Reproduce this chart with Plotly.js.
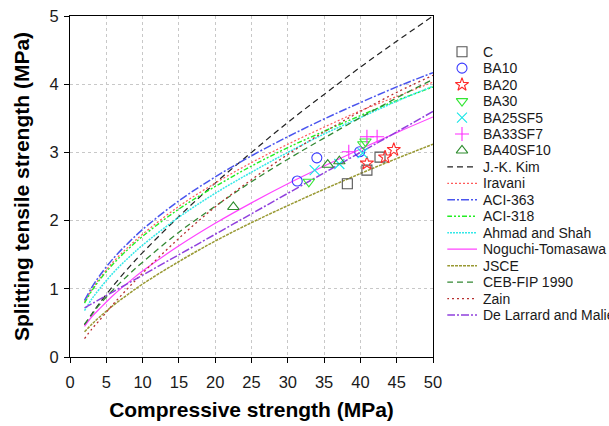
<!DOCTYPE html>
<html>
<head>
<meta charset="utf-8">
<script src="https://cdn.plot.ly/plotly-3.0.1.min.js"></script>
<style>html,body{margin:0;padding:0;background:#fff}#chart{width:609px;height:426px}</style>
</head>
<body>
<div id="chart"></div>
<script>
// ---- measured specimens ----
const C_x = [38.2, 40.9, 42.7];          const C_y = [2.54, 2.74, 2.93];
const BA10_x = [31.3, 34.0, 39.9];       const BA10_y = [2.58, 2.92, 3.01];
const BA20_x = [40.9, 43.4, 44.6];       const BA20_y = [2.84, 2.93, 3.04];
const BA30_x = [32.9, 40.4, 40.7];       const BA30_y = [2.57, 3.12, 3.16];
const BA25SF5_x = [33.7, 37.1, 40.3];    const BA25SF5_y = [2.74, 2.83, 2.99];
const BA33SF7_x = [38.4, 40.9, 42.3];    const BA33SF7_y = [3.01, 3.23, 3.23];
const BA40SF10_x = [22.5, 35.5, 37.1];   const BA40SF10_y = [2.20, 2.82, 2.87];

// ---- prediction curves (values read at these compressive strengths) ----
const fcCurve = [2, 3, 4, 6, 8, 10, 15, 20, 25, 30, 35, 40, 45, 50];
const kim      = [0.47, 0.63, 0.78, 1.05, 1.30, 1.53, 2.06, 2.55, 3.00, 3.44, 3.85, 4.25, 4.63, 5.00];
const iravani  = [0.81, 0.99, 1.14, 1.40, 1.61, 1.80, 2.21, 2.55, 2.85, 3.12, 3.37, 3.61, 3.82, 4.03];
const aci363   = [0.83, 1.02, 1.18, 1.45, 1.67, 1.87, 2.29, 2.64, 2.95, 3.23, 3.49, 3.73, 3.96, 4.17];
const aci318   = [0.79, 0.97, 1.12, 1.37, 1.58, 1.77, 2.17, 2.50, 2.80, 3.07, 3.31, 3.54, 3.76, 3.96];
const ahmad    = [0.68, 0.85, 0.99, 1.24, 1.45, 1.64, 2.05, 2.40, 2.71, 3.00, 3.27, 3.51, 3.75, 3.97];
const noguchi  = [0.45, 0.59, 0.70, 0.91, 1.09, 1.26, 1.63, 1.96, 2.26, 2.54, 2.80, 3.05, 3.29, 3.52];
const jsce     = [0.37, 0.48, 0.58, 0.76, 0.92, 1.07, 1.40, 1.70, 1.97, 2.22, 2.46, 2.69, 2.91, 3.12];
const cebfip   = [0.48, 0.62, 0.76, 0.99, 1.20, 1.39, 1.83, 2.21, 2.57, 2.90, 3.21, 3.51, 3.80, 4.07];
const zain     = [0.27, 0.41, 0.53, 0.78, 1.01, 1.23, 1.74, 2.20, 2.60, 2.97, 3.30, 3.60, 3.88, 4.13];
const larrard  = [0.72, 0.78, 0.84, 0.96, 1.08, 1.20, 1.50, 1.80, 2.10, 2.40, 2.70, 3.00, 3.30, 3.60];

const xTicks = [0, 5, 10, 15, 20, 25, 30, 35, 40, 45, 50];
const yTicks = [0, 1, 2, 3, 4, 5];

const FONT = 'Arial, "Liberation Sans", sans-serif';

const pointSeries = [
  {name: 'C',        x: C_x,        y: C_y,        symbol: 'square-open',        color: '#555555'},
  {name: 'BA10',     x: BA10_x,     y: BA10_y,     symbol: 'circle-open',        color: '#3a3aff'},
  {name: 'BA20',     x: BA20_x,     y: BA20_y,     symbol: 'star-open',          color: '#ff2a2a'},
  {name: 'BA30',     x: BA30_x,     y: BA30_y,     symbol: 'triangle-down-open', color: '#33e633'},
  {name: 'BA25SF5',  x: BA25SF5_x,  y: BA25SF5_y,  symbol: 'x-thin-open',        color: '#18e6e6'},
  {name: 'BA33SF7',  x: BA33SF7_x,  y: BA33SF7_y,  symbol: 'cross-thin-open',    color: '#ff2aff'},
  {name: 'BA40SF10', x: BA40SF10_x, y: BA40SF10_y, symbol: 'triangle-up-open',   color: '#2e8b2e'}
];
const lineSeries = [
  {name: 'J.-K. Kim',             y: kim,     color: '#222222', dash: '6px,4px',               width: 1.2},
  {name: 'Iravani',               y: iravani, color: '#ff5a5a', dash: '2px,2px',               width: 1.2},
  {name: 'ACI-363',               y: aci363,  color: '#4a55ee', dash: '8px,2px,2px,2px',       width: 1.5},
  {name: 'ACI-318',               y: aci318,  color: '#22ee22', dash: '5px,2px,2px,2px,2px,2px', width: 1.4},
  {name: 'Ahmad and Shah',        y: ahmad,   color: '#33e8e8', dash: '2px,1px',               width: 1.5},
  {name: 'Noguchi-Tomasawa',      y: noguchi, color: '#ff44ff', dash: 'solid',                 width: 1.2},
  {name: 'JSCE',                  y: jsce,    color: '#999933', dash: '3px,1px',               width: 1.5},
  {name: 'CEB-FIP 1990',          y: cebfip,  color: '#338833', dash: '6px,4px',               width: 1.3},
  {name: 'Zain',                  y: zain,    color: '#b83030', dash: '2px,3px',               width: 1.3},
  {name: 'De Larrard and Malier', y: larrard, color: '#9040dd', dash: '8px,2px,2px,2px',       width: 1.5}
];

const traces = [];
lineSeries.forEach(s => traces.push({
  type: 'scatter', mode: 'lines', x: fcCurve, y: s.y, name: s.name, showlegend: false,
  line: {color: s.color, dash: s.dash, width: s.width, shape: 'spline', smoothing: 1},
  xaxis: 'x', yaxis: 'y', hoverinfo: 'skip'
}));
pointSeries.forEach(s => traces.push({
  type: 'scatter', mode: 'markers', x: s.x, y: s.y, name: s.name, showlegend: false,
  marker: {symbol: s.symbol, size: 10, color: s.color, line: {color: s.color, width: 1.1}},
  xaxis: 'x', yaxis: 'y', cliponaxis: false
}));

// ---- hand-made legend on an auxiliary pixel-scaled axis pair ----
const PW = 609, ML = 70, MT = 16, MB = 69;
const legDom0 = 0.7;
const legX0 = ML + legDom0 * (PW - ML);
const sampleL = 447, sampleR = 477, textX = 481;
const legTop = 51.7, legStep = 16.46;
const annotations = [];
const allNames = pointSeries.map(s => s.name).concat(lineSeries.map(s => s.name));
pointSeries.forEach((s, i) => {
  const yy = legTop + legStep * i;
  traces.push({type: 'scatter', mode: 'markers', x: [(sampleL + sampleR) / 2], y: [yy],
    showlegend: false, hoverinfo: 'skip', cliponaxis: false, xaxis: 'x2', yaxis: 'y2',
    marker: {symbol: s.symbol, size: 10, color: s.color, line: {color: s.color, width: 1.1}}});
});
lineSeries.forEach((s, j) => {
  const yy = legTop + legStep * (j + pointSeries.length);
  traces.push({type: 'scatter', mode: 'lines', x: [sampleL, sampleR], y: [yy, yy],
    showlegend: false, hoverinfo: 'skip', cliponaxis: false, xaxis: 'x2', yaxis: 'y2',
    line: {color: s.color, dash: s.dash, width: s.width}});
});
allNames.forEach((n, i) => annotations.push({
  xref: 'x2', yref: 'y2', x: textX, y: legTop + legStep * i, text: n, showarrow: false,
  xanchor: 'left', yanchor: 'middle', font: {family: FONT, size: 14, color: '#1a1a1a'}
}));

const layout = {
  width: 609, height: 426,
  margin: {l: ML, r: 0, t: MT, b: MB, pad: 0},
  paper_bgcolor: '#ffffff', plot_bgcolor: 'rgba(0,0,0,0)',
  showlegend: false,
  font: {family: FONT, color: '#1a1a1a'},
  xaxis: {
    domain: [0, 363 / (PW - ML)], range: [0, 50], tickvals: xTicks, ticktext: xTicks.map(String),
    showline: true, linecolor: '#000', linewidth: 1, mirror: true,
    ticks: 'outside', ticklen: 5, tickcolor: '#000', tickwidth: 1, ticklabelstandoff: 5,
    showgrid: true, gridcolor: '#c8c8c8', griddash: 'dot', gridwidth: 1, zeroline: false,
    tickfont: {family: FONT, size: 16.5, color: '#1a1a1a'},
    title: {text: 'Compressive strength (MPa)', font: {family: FONT, size: 21, color: '#000', weight: 'bold'}, standoff: 12}
  },
  yaxis: {
    domain: [0, 1], range: [0, 5], tickvals: yTicks, ticktext: yTicks.map(String),
    showline: true, linecolor: '#000', linewidth: 1, mirror: true,
    ticks: 'outside', ticklen: 5, tickcolor: '#000', tickwidth: 1, ticklabelstandoff: 2,
    showgrid: true, gridcolor: '#c8c8c8', griddash: 'dot', gridwidth: 1, zeroline: false,
    tickfont: {family: FONT, size: 16.5, color: '#1a1a1a'},
    title: {text: 'Splitting tensile strength (MPa)', font: {family: FONT, size: 21, color: '#000', weight: 'bold'}, standoff: 14}
  },
  xaxis2: {domain: [legDom0, 1], range: [legX0, PW], visible: false, anchor: 'y2', fixedrange: true},
  yaxis2: {domain: [0, 1], range: [426 - MB, MT], visible: false, anchor: 'x2', fixedrange: true},
  annotations: annotations
};

Plotly.newPlot('chart', traces, layout, {staticPlot: true, displayModeBar: false});
</script>
</body>
</html>
